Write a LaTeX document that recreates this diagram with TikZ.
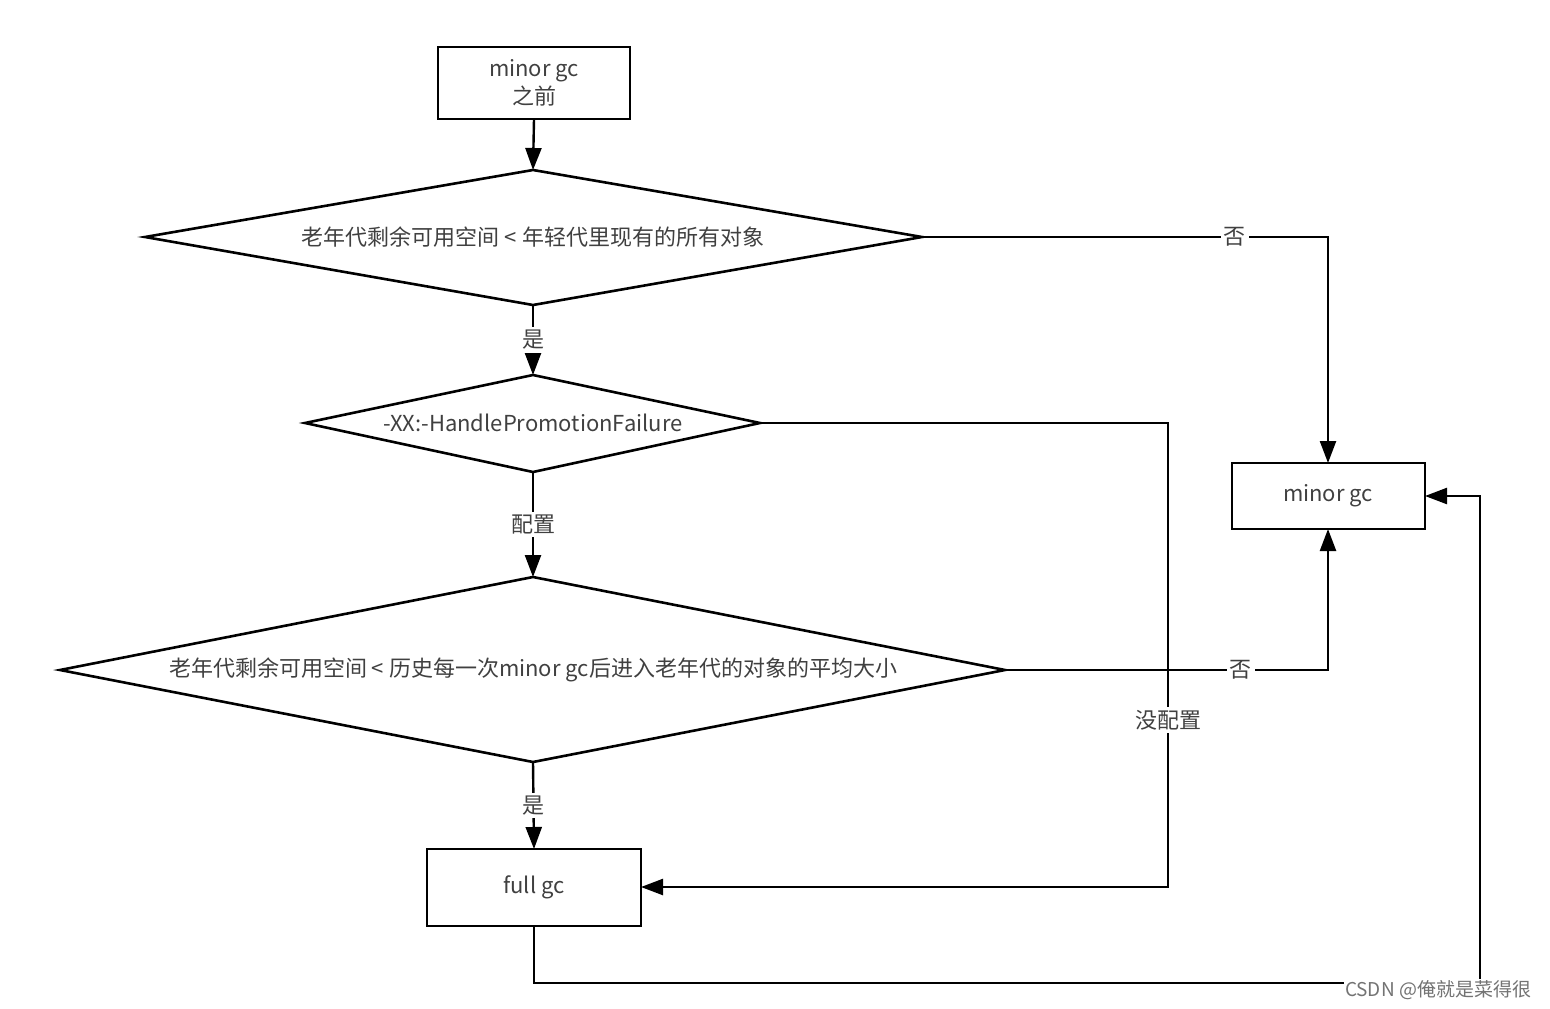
\documentclass[tikz,border=0pt]{standalone}
\usepackage{fontspec}
\setmainfont{Noto Sans CJK SC}
\usetikzlibrary{arrows.meta}
\begin{document}
\begin{tikzpicture}[x=1pt,y=-1pt,
  shp/.style={draw,line width=2.6pt},
  con/.style={line width=2.4pt,-{Triangle[length=22pt,width=16pt]}},
  lab/.style={fill=white,inner sep=3pt,font=\fontsize{22}{26}\selectfont,text=black!75},
  txt/.style={font=\fontsize{22}{28}\selectfont,text=black!75,align=center}]
\useasboundingbox (0,0) rectangle (1550,1009);
% boxes
\draw[shp] (438,47) rectangle (630,119);
\node[txt] (b1) at (534,83) {minor gc\\之前};
\coordinate (b1s) at (534,119);
\draw[shp] (1232,463) rectangle (1425,529);
\node[txt] (mg) at (1328,496) {minor gc};
\coordinate (mgn) at (1328,463); \coordinate (mgs) at (1328,529); \coordinate (mge) at (1425,496);
\draw[shp] (427,849) rectangle (641,926);
\node[txt] (fg) at (534,887) {full gc};
\coordinate (fgn) at (534,849); \coordinate (fgs) at (534,926); \coordinate (fge) at (641,887);
% diamonds
\draw[shp] (145,237) -- (533,170) -- (922,237) -- (533,305) -- cycle;
\node[txt] (d1) at (533,237) {老年代剩余可用空间 < 年轻代里现有的所有对象};
\coordinate (d1n) at (533,170); \coordinate (d1s) at (533,305); \coordinate (d1e) at (922,237);
\draw[shp] (305,423) -- (533,375) -- (760,423) -- (533,472) -- cycle;
\node[txt] (d2) at (533,423) {-XX:-HandlePromotionFailure};
\coordinate (d2n) at (533,375); \coordinate (d2s) at (533,472); \coordinate (d2e) at (760,423);
\draw[shp] (60,670) -- (533,577) -- (1005,670) -- (533,762) -- cycle;
\node[txt] (d3) at (533,670) {老年代剩余可用空间 < 历史每一次minor gc后进入老年代的对象的平均大小};
\coordinate (d3n) at (533,577); \coordinate (d3s) at (533,762); \coordinate (d3e) at (1005,670);
% connectors
\draw[con] (b1s) -- (d1n);
\draw[con] (d1s) -- node[lab]{是} (d2n);
\draw[con] (d1e) -- node[lab,pos=0.77]{否} (1328,237) -- (mgn);
\draw[con] (d2s) -- node[lab]{配置} (d3n);
\draw[con] (d2e) -- (1168,423) -- node[lab,pos=0.64]{没配置} (1168,887) -- (fge);
\draw[con] (d3e) -- node[lab,pos=0.73]{否} (1328,670) -- (mgs);
\draw[con] (d3s) -- node[lab]{是} (fgn);
\draw[con] (fgs) -- (534,983) -- (1480,983) -- (1480,496) -- (mge);
\node[font=\fontsize{19}{22}\selectfont,text=black!55,fill=white,inner sep=1pt] (wm) at (1438,990) {CSDN @俺就是菜得很};
\end{tikzpicture}
\end{document}
